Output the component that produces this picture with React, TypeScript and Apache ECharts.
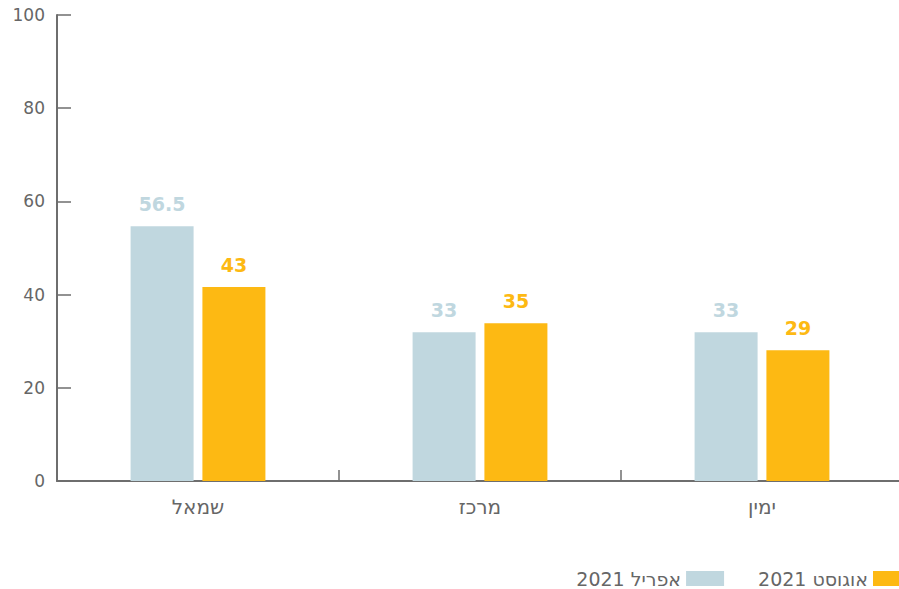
import React, { useEffect, useRef } from "react";
import * as echarts from "echarts";

const categories = ["שמאל", "מרכז", "ימין"];
const seriesNames = ["אפריל 2021", "אוגוסט 2021"];
const aprilValues = [56.5, 33, 33];
const augustValues = [43, 35, 29];
const colors = ["#c0d7df", "#fdb913"];

export default function App() {
  const ref = useRef<HTMLDivElement>(null);
  useEffect(() => {
    document.body.style.margin = "0";
    document.body.style.overflow = "hidden";
    if (!ref.current) return;
    const chart = echarts.init(ref.current, undefined, { renderer: "svg" });
    const axisColor = "#6e6e6e";
    const axisFont = "'DejaVu Sans', sans-serif";
    const valueSeries = [aprilValues, augustValues];
    chart.setOption({
      animation: false,
      grid: { left: 57, top: 15, right: 0, bottom: 108, containLabel: false },
      legend: {
        data: seriesNames,
        right: -8,
        top: 569,
        padding: 0,
        align: "right",
        icon: "rect",
        itemWidth: 38,
        itemHeight: 15,
        itemGap: 34,
        textStyle: { color: "#666", fontSize: 19, fontFamily: axisFont },
      },
      xAxis: {
        type: "category",
        data: categories,
        axisLine: { show: true, lineStyle: { color: axisColor, width: 2 } },
        axisTick: { show: true, inside: true, length: 11, lineStyle: { color: axisColor, width: 1.5 } },
        axisLabel: { color: "#666", fontSize: 20, margin: 16, fontFamily: axisFont },
      },
      yAxis: [
        {
          type: "value",
          min: 0,
          max: 100,
          interval: 20,
          axisLine: { show: true, lineStyle: { color: axisColor, width: 2 } },
          axisTick: { show: true, inside: true, length: 14, lineStyle: { color: axisColor, width: 1.5 } },
          axisLabel: { color: "#666", fontSize: 17, margin: 12, fontFamily: axisFont },
          splitLine: { show: false },
        },
        {
          type: "value",
          min: 0,
          max: 103.35,
          show: false,
          splitLine: { show: false },
        },
      ],
      series: seriesNames.map((name, i) => ({
        name,
        type: "bar",
        yAxisIndex: 1,
        data: valueSeries[i],
        barWidth: 63,
        barGap: "14%",
        itemStyle: { color: colors[i] },
        label: {
          show: true,
          position: "top",
          distance: 13,
          color: colors[i],
          fontSize: 19,
          fontWeight: "bold",
          fontFamily: "'DejaVu Sans', sans-serif",
        },
      })),
    });
    return () => chart.dispose();
  }, []);
  return <div ref={ref} style={{ width: 903, height: 589 }} />;
}
